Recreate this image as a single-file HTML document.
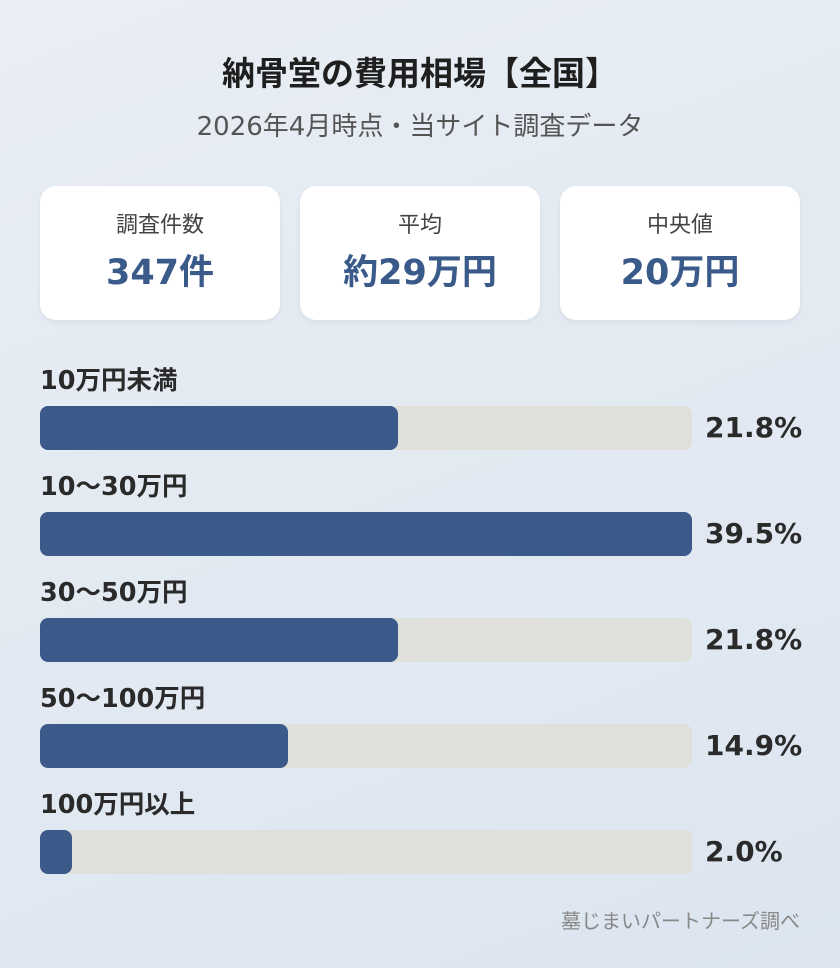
<!DOCTYPE html>
<html><head><meta charset="utf-8"><style>
*{margin:0;padding:0;box-sizing:border-box}
body{width:840px;height:968px;overflow:hidden;background:linear-gradient(160deg,#e9eef4,#dce5f0);font-family:"DejaVu Sans","Noto Sans CJK JP",sans-serif;position:relative;color:#222}
.t{position:absolute;top:47px;left:0;width:840px;text-align:center;font-size:33px;font-weight:bold;color:#1f1f1f}
.s{position:absolute;top:106px;left:0;width:840px;text-align:center;font-size:26px;color:#555}
.c{position:absolute;top:186px;width:240px;height:134px;background:#fff;border-radius:16px;box-shadow:0 2px 6px rgba(0,0,0,.06);text-align:center}
.c .l{margin-top:21px;font-size:22px;color:#444}
.c .v{margin-top:5px;font-size:35px;font-weight:bold;color:#3a5a8a}
.r{position:absolute;left:40px}
.r .n{font-size:25.5px;font-weight:bold;color:#2a2a2a;height:30px;line-height:30px;white-space:nowrap}
.tr{position:absolute;top:40px;left:0;width:652px;height:44px;background:#e0e0da;border-radius:8px}
.b{height:44px;background:#3b5a8a;border-radius:8px}
.p{position:absolute;top:42px;left:665px;font-size:28px;font-weight:bold;color:#2a2a2a;line-height:40px;white-space:nowrap}
.f{position:absolute;top:905px;right:40px;font-size:20px;color:#888}
</style></head><body>
<div class="t">納骨堂の費用相場【全国】</div>
<div class="s">2026年4月時点・当サイト調査データ</div>
<div class="c" style="left:40px"><div class="l">調査件数</div><div class="v">347件</div></div>
<div class="c" style="left:300px"><div class="l">平均</div><div class="v">約29万円</div></div>
<div class="c" style="left:560px"><div class="l">中央値</div><div class="v">20万円</div></div>
<div class="r" style="top:366px"><div class="n">10万円未満</div><div class="tr"><div class="b" style="width:358px"></div></div><div class="p">21.8%</div></div>
<div class="r" style="top:472px"><div class="n">10～30万円</div><div class="tr"><div class="b" style="width:652px"></div></div><div class="p">39.5%</div></div>
<div class="r" style="top:578px"><div class="n">30～50万円</div><div class="tr"><div class="b" style="width:358px"></div></div><div class="p">21.8%</div></div>
<div class="r" style="top:684px"><div class="n">50～100万円</div><div class="tr"><div class="b" style="width:248px"></div></div><div class="p">14.9%</div></div>
<div class="r" style="top:790px"><div class="n">100万円以上</div><div class="tr"><div class="b" style="width:32px"></div></div><div class="p">2.0%</div></div>
<div class="f">墓じまいパートナーズ調べ</div>
</body></html>
